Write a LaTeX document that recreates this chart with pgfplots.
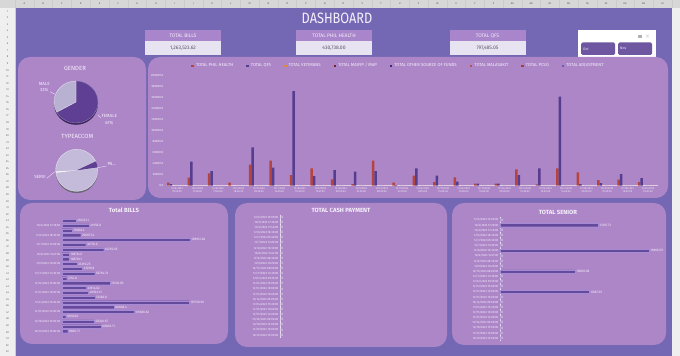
\documentclass[border=0pt]{standalone}
\usepackage{pgfplots}
\pgfplotsset{compat=1.18}
\usepackage{fontspec}
\setmainfont{Fira Sans}
\definecolor{sheet}{HTML}{EFEFEF}
\definecolor{sheetline}{HTML}{CCCCCC}
\definecolor{bg}{HTML}{7468B5}
\definecolor{panel}{HTML}{AD86C8}
\definecolor{kpihead}{HTML}{A985CC}
\definecolor{kpival}{HTML}{E7E3F1}
\definecolor{kpitxt}{HTML}{5A5466}
\definecolor{btn}{HTML}{6E57A0}
\definecolor{barpur}{HTML}{654A9B}
\definecolor{barhi}{HTML}{A58BD6}
\definecolor{ph}{HTML}{B5443F}
\definecolor{qfs}{HTML}{573D90}
\definecolor{vet}{HTML}{D98B45}
\definecolor{maif}{HTML}{7A1F22}
\definecolor{oth}{HTML}{3E2A6E}
\definecolor{mal}{HTML}{C0504D}
\definecolor{pcso}{HTML}{A83A3A}
\definecolor{adj}{HTML}{6F5CAE}
\definecolor{txt}{HTML}{F6F0FB}
\definecolor{fem}{HTML}{5E3F94}
\definecolor{male}{HTML}{B9B1D2}
\definecolor{serv}{HTML}{C3BBD9}
\newcommand{\fs}[2]{\fontsize{#1}{#2}\selectfont}
\pgfplotsset{
  hbar/.style={
    scale only axis, xbar, bar width=3.2pt, y dir=reverse,
    ymin=-0.5, ymax=23.5, xmin=0, major tick length=0pt, clip=false,
    axis x line=none, axis y line*=left,
    yticklabel style={font=\fs{2.9}{3.3}, text=txt, inner sep=1.5pt},
    nodes near coords,
    nodes near coords style={font=\fs{3.3}{3.8}, text=txt, anchor=west, inner sep=1.2pt},
    /pgf/number format/1000 sep={},
    /pgf/number format/assume math mode=true,
  },
  datelabels/.style={ytick={0,...,23}, yticklabels={
    {12/6/2023 15:00:00},{12/6/2023 17:36:00},{12/6/2023 17:40:00},{12/6/2023 18:30:00},
    {12/7/2023 09:30:00},{12/7/2023 14:05:00},{12/8/2023 10:30:00},{12/8/2023 15:47:00},
    {12/9/2023 08:30:00},{12/9/2023 16:20:00},{12/11/2023 08:00:00},{12/11/2023 14:30:00},
    {12/12/2023 09:15:00},{12/12/2023 15:00:00},{12/13/2023 10:00:00},{12/13/2023 16:00:00},
    {12/14/2023 09:00:00},{12/14/2023 15:30:00},{12/15/2023 10:00:00},{12/15/2023 14:00:00},
    {12/18/2023 09:00:00},{12/18/2023 15:00:00},{12/19/2023 10:00:00},{12/20/2023 15:00:00}}},
}
\begin{document}
\begin{tikzpicture}
\begin{scope}[x=1pt,y=1pt]
\useasboundingbox (0,0) rectangle (680,356);
% spreadsheet frame
\fill[sheet] (0,0) rectangle (680,356);
\fill[bg] (15,0) rectangle (672,348);
\fill[sheet!90!black] (0,348) rectangle (680,356);
\foreach \l [count=\i] in {A,B,C,D,E,F,G,H,I,J,K,L,M,N,O,P,Q,R,S,T,U,V,W,X,Y,Z,AA,AB,AC,AD,AE,AF,AG,AH,AI}{
  \draw[sheetline,line width=0.2pt] ({15+18.77*\i},348) -- ({15+18.77*\i},356);
  \node[font=\fs{2.6}{3}, text=gray!70!black, inner sep=0pt] at ({15+18.77*(\i-0.5)},352) {\l};
}
\foreach \i in {1,...,53}{
  \node[font=\fs{2.6}{3}, text=gray!70!black, inner sep=0pt] at (7.5,{348-6.55*(\i-0.5)}) {\i};
}
\draw[sheetline,line width=0.2pt] (15,0) -- (15,356);
% title
\node[text=txt, font=\fs{15}{16}, xscale=0.85, inner sep=0pt] at (337,338) {DASHBOARD};
% KPI boxes
\foreach \cx/\ttl/\val in {183/TOTAL BILLS/{1,263,523.62}, 334/TOTAL PHIL HEALTH/{430,738.00}, 487.5/TOTAL QFS/{797,485.05}}{
  \fill[kpihead] (\cx-38,314.5) rectangle (\cx+38,326);
  \fill[kpival] (\cx-38,301) rectangle (\cx+38,314.5);
  \node[text=txt, font=\fs{5}{6}, inner sep=0pt] at (\cx,320.2) {\ttl};
  \node[text=kpitxt, font=\fs{5}{6}, inner sep=0pt] at (\cx,307.7) {\val};
}
% slicer
\fill[white] (578,299) rectangle (656,326);
\fill[btn, rounded corners=1.5pt] (581,301) rectangle (615,313.5);
\fill[btn, rounded corners=1.5pt] (618,301) rectangle (652,313.5);
\node[text=txt, font=\fs{3.5}{4}, anchor=west, inner sep=0pt] at (583,307.2) {Oct};
\node[text=txt, font=\fs{3.5}{4}, anchor=west, inner sep=0pt] at (620,307.2) {Nov};
\draw[gray!60, line width=0.3pt] (638,321) -- (642,321) (638,320) -- (642,320) (638,319) -- (642,319);
\draw[gray!60, line width=0.3pt] (646,321.5) -- (649,318.5) (646,318.5) -- (649,321.5);
% panels
\fill[panel, rounded corners=12pt] (18,156) rectangle (146,299);
\fill[panel, rounded corners=12pt] (148,158) rectangle (668,299);
\fill[panel, rounded corners=12pt] (20,12) rectangle (228,153);
\fill[panel, rounded corners=12pt] (235,9) rectangle (447,153);
\fill[panel, rounded corners=12pt] (452,11) rectangle (666,153);
% pies
\node[text=txt, font=\fs{6}{7}, inner sep=0pt] at (75,287.7) {GENDER};
\node[text=txt, font=\fs{6}{7}, inner sep=0pt] at (77.3,220) {TYPEACCOM};
\begin{scope}[shift={(76,254)}]
  \fill[fem!60!black] (0,-1.8) ellipse [x radius=22, y radius=21];
  \fill[fem, draw=fem!60!white, line width=0.3pt] (0,0) -- (-151.2:22 and 21) arc[start angle=-151.2, end angle=90, x radius=22, y radius=21] -- cycle;
  \fill[male, draw=white!70!male, line width=0.3pt] (0,0) -- (90:22 and 21) arc[start angle=90, end angle=208.8, x radius=22, y radius=21] -- cycle;
\end{scope}
\node[text=txt, font=\fs{4.5}{5}, inner sep=0pt] at (44.3,272.3) {MALE};
\node[text=txt, font=\fs{4.5}{5}, inner sep=0pt] at (44.3,265.7) {33\%};
\draw[txt, line width=0.3pt] (50,264.3) -- (55,261.7);
\node[text=txt, font=\fs{4.5}{5}, inner sep=0pt] at (109.3,240) {FEMALE};
\node[text=txt, font=\fs{4.5}{5}, inner sep=0pt] at (109.3,233.3) {67\%};
\draw[txt, line width=0.3pt] (97.7,241) -- (101,238.3);
\begin{scope}[shift={(76.7,185.7)}]
  \fill[serv!55!black] (0,-1.8) ellipse [x radius=21, y radius=21];
  \fill[serv, draw=white!70!serv, line width=0.3pt] (0,0) -- (25:21) arc[start angle=25, end angle=368, radius=21] -- cycle;
  \fill[fem] (0,0) -- (8:21) arc[start angle=8, end angle=25, radius=21] -- cycle;
  \fill[white!85!serv] (0,0) -- (183:21) arc[start angle=183, end angle=187, radius=21] -- cycle;
\end{scope}
\node[text=txt, font=\fs{4.5}{5}, inner sep=0pt] at (111.7,192) {PA...};
\draw[txt, line width=0.3pt] (98,188.3) -- (106.7,190);
\node[text=txt, font=\fs{4.5}{5}, inner sep=0pt] at (40,178.7) {SERVI};
\draw[txt, line width=0.3pt] (46.7,177.7) -- (55,184.3);
\node[text=txt, font=\fs{6}{7}\bfseries, inner sep=0pt] at (124,145.5) {Total BILLS};
\node[text=txt, font=\fs{6}{7}\bfseries, inner sep=0pt] at (341,145.5) {TOTAL CASH PAYMENT};
\node[text=txt, font=\fs{6}{7}\bfseries, inner sep=0pt] at (558,143.5) {TOTAL SENIOR};
\end{scope}
% main chart
\begin{axis}[
  at={(166.8pt,170.3pt)}, anchor=south west, scale only axis,
  width=491.4pt, height=109.7pt,
  ybar=0pt, bar width=2.5pt,
  xmin=-0.5, xmax=23.5, ymin=0, ymax=200000,
  ytick distance=20000, scaled y ticks=false,
  yticklabel={\pgfmathprintnumber[fixed,fixed zerofill,precision=1,1000 sep={}]{\tick}},
  /pgf/number format/assume math mode=true,
  major tick length=0pt,
  axis x line*=bottom, axis y line*=left,
  x axis line style={draw=white!75!panel, line width=0.4pt, -},
  y axis line style={draw=none},
  yticklabel style={font=\fs{3}{3.5}, text=txt},
  xtick={0,...,23},
  xticklabel style={align=center, font=\fs{2.6}{3.1}, text=txt, inner sep=1.5pt},
  xticklabels={
    {12/6/2023\\15:00:00},{12/6/2023\\17:36:00},{12/6/2023\\17:40:00},{12/6/2023\\18:30:00},
    {12/7/2023\\09:30:00},{12/7/2023\\14:05:00},{12/8/2023\\10:30:00},{12/8/2023\\15:47:00},
    {12/9/2023\\08:30:00},{12/9/2023\\16:20:00},{12/11/2023\\08:00:00},{12/11/2023\\14:30:00},
    {12/12/2023\\09:15:00},{12/12/2023\\15:00:00},{12/13/2023\\10:00:00},{12/13/2023\\16:00:00},
    {12/14/2023\\09:00:00},{12/14/2023\\15:30:00},{12/15/2023\\10:00:00},{12/15/2023\\14:00:00},
    {12/18/2023\\09:00:00},{12/18/2023\\15:00:00},{12/19/2023\\10:00:00},{12/20/2023\\15:00:00}},
  legend columns=8,
  legend style={at={(0.5,1)}, anchor=south, yshift=3.5pt, xshift=-14pt, draw=none, fill=none,
    font=\fs{4.3}{5}, text=txt, /tikz/every even column/.append style={column sep=11pt}},
  legend image code/.code={\fill[#1] (0pt,-1.3pt) rectangle (2.6pt,1.3pt);},
]
\addplot[fill=ph, draw=none] coordinates {(0,5500) (1,14600) (2,22500) (3,5500) (4,38300) (5,45600) (6,19500) (7,31600) (8,11500) (9,3000) (10,45600) (11,5500) (12,18200) (13,6700) (14,15200) (15,4000) (16,4000) (17,29800) (18,2400) (19,31600) (20,24300) (21,10300) (22,10900) (23,6700)};
\addplot[fill=qfs, draw=none] coordinates {(0,3000) (1,43800) (2,26700) (3,0) (4,70000) (5,32800) (6,172600) (7,17600) (8,28600) (9,25500) (10,26700) (11,1000) (12,31600) (13,18200) (14,7300) (15,4000) (16,4000) (17,19500) (18,31600) (19,162300) (20,3000) (21,4900) (22,21300) (23,14000)};
\addplot[fill=vet, draw=none] coordinates {(0,0) (1,0) (2,0) (3,0) (4,0) (5,0) (6,0) (7,0) (8,0) (9,0) (10,0) (11,0) (12,0) (13,0) (14,0) (15,0) (16,0) (17,0) (18,0) (19,0) (20,0) (21,0) (22,0) (23,0)};
\addplot[fill=maif, draw=none] coordinates {(0,0) (1,0) (2,0) (3,0) (4,0) (5,0) (6,0) (7,0) (8,0) (9,0) (10,0) (11,0) (12,0) (13,0) (14,0) (15,0) (16,0) (17,0) (18,0) (19,0) (20,0) (21,0) (22,0) (23,0)};
\addplot[fill=oth, draw=none] coordinates {(0,0) (1,0) (2,0) (3,0) (4,0) (5,0) (6,0) (7,0) (8,0) (9,0) (10,0) (11,0) (12,0) (13,0) (14,0) (15,0) (16,0) (17,0) (18,0) (19,0) (20,0) (21,0) (22,0) (23,0)};
\addplot[fill=mal, draw=none] coordinates {(0,0) (1,0) (2,0) (3,0) (4,0) (5,0) (6,0) (7,0) (8,0) (9,0) (10,0) (11,0) (12,0) (13,0) (14,0) (15,0) (16,0) (17,0) (18,0) (19,0) (20,0) (21,0) (22,0) (23,0)};
\addplot[fill=pcso, draw=none] coordinates {(0,0) (1,0) (2,0) (3,0) (4,0) (5,0) (6,0) (7,0) (8,0) (9,0) (10,0) (11,0) (12,0) (13,0) (14,0) (15,0) (16,0) (17,0) (18,0) (19,0) (20,0) (21,0) (22,0) (23,0)};
\addplot[fill=adj, draw=none] coordinates {(0,0) (1,0) (2,0) (3,0) (4,0) (5,0) (6,0) (7,0) (8,0) (9,0) (10,0) (11,0) (12,0) (13,0) (14,0) (15,0) (16,0) (17,0) (18,0) (19,0) (20,0) (21,0) (22,0) (23,0)};
\legend{TOTAL PHIL HEALTH, TOTAL QFS, TOTAL VETERANS, TOTAL MAIFIP / MAP, TOTAL OTHER SOURCE OF FUNDS, TOTAL MALASAKIT, TOTAL PCSO, TOTAL ADJUSTMENT}
\end{axis}
% Total BILLS
\begin{axis}[hbar, at={(62pt,22.5pt)}, anchor=south west, width=160.9pt, height=115.2pt,
  xmax=250000, y axis line style={draw=none},
  ytick={1,3,...,23},
  yticklabels={{12/6/2023 17:36:00},{12/6/2023 18:30:00},{12/7/2023 14:05:00},{12/8/2023 15:47:00},
    {12/9/2023 16:20:00},{12/11/2023 14:30:00},{12/12/2023 15:00:00},{12/13/2023 16:00:00},
    {12/14/2023 15:30:00},{12/15/2023 14:00:00},{12/18/2023 15:00:00},{12/20/2023 15:00:00}},
  nodes near coords={\pgfmathprintnumber[fixed,precision=2,1000 sep={}]{\pgfplotspointmeta}},
]
\addplot[fill=barpur, draw=barhi, line width=0.3pt] coordinates {(21832.11,0) (41958.80,1) (16058.20,2) (29007.54,3) (198912.82,4) (36778.60,5) (64750.05,6) (10878.47,7) (10878.11,8) (23310.25,9) (31598.80,10) (50764.79,11) (7252.80,12) (74592.85,13) (37814.82,14) (40922.13,15) (51282.80,16) (197358.96,17) (80808.40,18) (111888.62,19) (5698.86,20) (50246.67,21) (60606.71,22) (8806.71,23)};
\end{axis}
% TOTAL CASH PAYMENT
\begin{axis}[hbar, datelabels, at={(280pt,18.4pt)}, anchor=south west, width=150pt, height=122.9pt,
  xmax=1, y axis line style={draw=white!75!panel, line width=0.4pt},
]
\addplot[fill=barpur, draw=none] coordinates {(0,0) (0,1) (0,2) (0,3) (0,4) (0,5) (0,6) (0,7) (0,8) (0,9) (0,10) (0,11) (0,12) (0,13) (0,14) (0,15) (0,16) (0,17) (0,18) (0,19) (0,20) (0,21) (0,22) (0,23)};
\end{axis}
% TOTAL SENIOR
\begin{axis}[hbar, datelabels, at={(500pt,15.2pt)}, anchor=south west, width=150pt, height=123.4pt,
  xmax=20000, y axis line style={draw=white!75!panel, line width=0.4pt},
]
\addplot[fill=barpur, draw=barhi, line width=0.3pt] coordinates {(0,0) (13107.73,1) (0,2) (0,3) (0,4) (0,5) (19866.59,6) (0,7) (0,8) (0,9) (10000.08,10) (0,11) (0,12) (0,13) (11867.39,14) (0,15) (0,16) (0,17) (0,18) (0,19) (0,20) (0,21) (0,22) (0,23)};
\end{axis}
\end{tikzpicture}
\end{document}
